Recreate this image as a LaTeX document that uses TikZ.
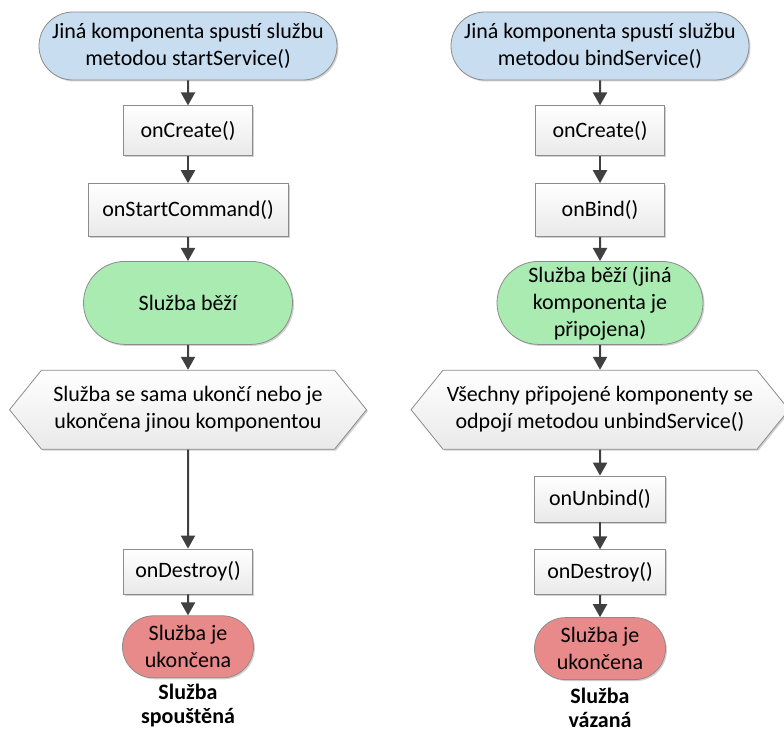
\documentclass[tikz,border=0pt]{standalone}
\usepackage{fontspec}
\setmainfont{Carlito}
\usetikzlibrary{positioning,shapes.misc,shapes.symbols,arrows.meta,shadows}
\definecolor{StartBlue}{HTML}{C9DDF0}
\definecolor{RunGreen}{HTML}{A9EBB0}
\definecolor{EndRed}{HTML}{E98A8A}
\definecolor{BoxGray}{HTML}{E9E9E9}
\definecolor{BorderGray}{HTML}{8C8C8C}
\definecolor{ArrowGray}{HTML}{404040}

\begin{document}
\begin{tikzpicture}[x=1pt,y=1pt,
                    node distance=25pt,
                    flow/.style={-{Triangle[width=14pt,length=13pt]},draw=ArrowGray,line width=2pt},
                    basenode/.style={draw=BorderGray,line width=.8pt,align=center,inner sep=0pt,
                                     font={\fontsize{22}{27}\selectfont},
                                     drop shadow={shadow xshift=1.5pt,shadow yshift=-1.5pt,fill=black,opacity=.18}},
                    terminal/.style={basenode,rounded rectangle},
                    startnode/.style={terminal,fill=StartBlue,minimum width=298pt,minimum height=68pt},
                    runnode/.style={terminal,fill=RunGreen,minimum height=83pt},
                    endnode/.style={terminal,fill=EndRed,minimum width=131pt,minimum height=62pt},
                    method/.style={basenode,rectangle,top color=white,bottom color=BoxGray,minimum height=51pt},
                    event/.style={basenode,signal,signal to=west and east,signal pointer angle=102,
                                  top color=white,bottom color=BoxGray,minimum height=79pt},
                    caption/.style={align=center,font={\bfseries\fontsize{22}{24}\selectfont}}]
    \useasboundingbox (0,0) rectangle (784,-733);
    % spoustena sluzba
    \node[startnode] (s-start) at (188,-46) {Jiná komponenta spustí službu\\metodou startService()};
    \node[method,minimum width=129pt,minimum height=50pt] (s-create) [below=of s-start] {onCreate()};
    \node[method,minimum width=200pt,minimum height=53pt] (s-command) [below=27pt of s-create] {onStartCommand()};
    \node[runnode,minimum width=209pt] (s-running) [below=24pt of s-command] {Služba běží};
    \node[event,minimum width=357pt] (s-stop) [below=of s-running] {Služba se sama ukončí nebo je\\ukončena jinou komponentou};
    \node[method,minimum width=129pt,minimum height=45pt] (s-destroy) [below=99pt of s-stop] {onDestroy()};
    \node[endnode] (s-end) [below=21pt of s-destroy] {Služba je\\ukončena};
    \node[caption] (s-caption) [below=2pt of s-end] {Služba\\spouštěná};
    % vazana sluzba
    \node[startnode] (b-start) at (600,-46) {Jiná komponenta spustí službu\\metodou bindService()};
    \node[method,minimum width=129pt,minimum height=50pt] (b-create) [below=of b-start] {onCreate()};
    \node[method,minimum width=129pt,minimum height=53pt] (b-bind) [below=27pt of b-create] {onBind()};
    \node[runnode,minimum width=206pt] (b-running) [below=24pt of b-bind] {Služba běží (jiná\\komponenta je\\připojena)};
    \node[event,minimum width=378pt] (b-stop) [below=of b-running] {Všechny připojené komponenty se\\odpojí metodou unbindService()};
    \node[method,minimum width=131pt,minimum height=46pt] (b-unbind) [below=26pt of b-stop] {onUnbind()};
    \node[method,minimum width=131pt,minimum height=45pt] (b-destroy) [below=27pt of b-unbind] {onDestroy()};
    \node[endnode] (b-end) [below=22pt of b-destroy] {Služba je\\ukončena};
    \node[caption] (b-caption) [below=5pt of b-end] {Služba\\vázaná};
    \draw[flow] (s-start) -- (s-create);
    \draw[flow] (s-create) -- (s-command);
    \draw[flow] (s-command) -- (s-running);
    \draw[flow] (s-running) -- (s-stop);
    \draw[flow] (s-stop) -- (s-destroy);
    \draw[flow] (s-destroy) -- (s-end);
    \draw[flow] (b-start) -- (b-create);
    \draw[flow] (b-create) -- (b-bind);
    \draw[flow] (b-bind) -- (b-running);
    \draw[flow] (b-running) -- (b-stop);
    \draw[flow] (b-stop) -- (b-unbind);
    \draw[flow] (b-unbind) -- (b-destroy);
    \draw[flow] (b-destroy) -- (b-end);
\end{tikzpicture}
\end{document}
